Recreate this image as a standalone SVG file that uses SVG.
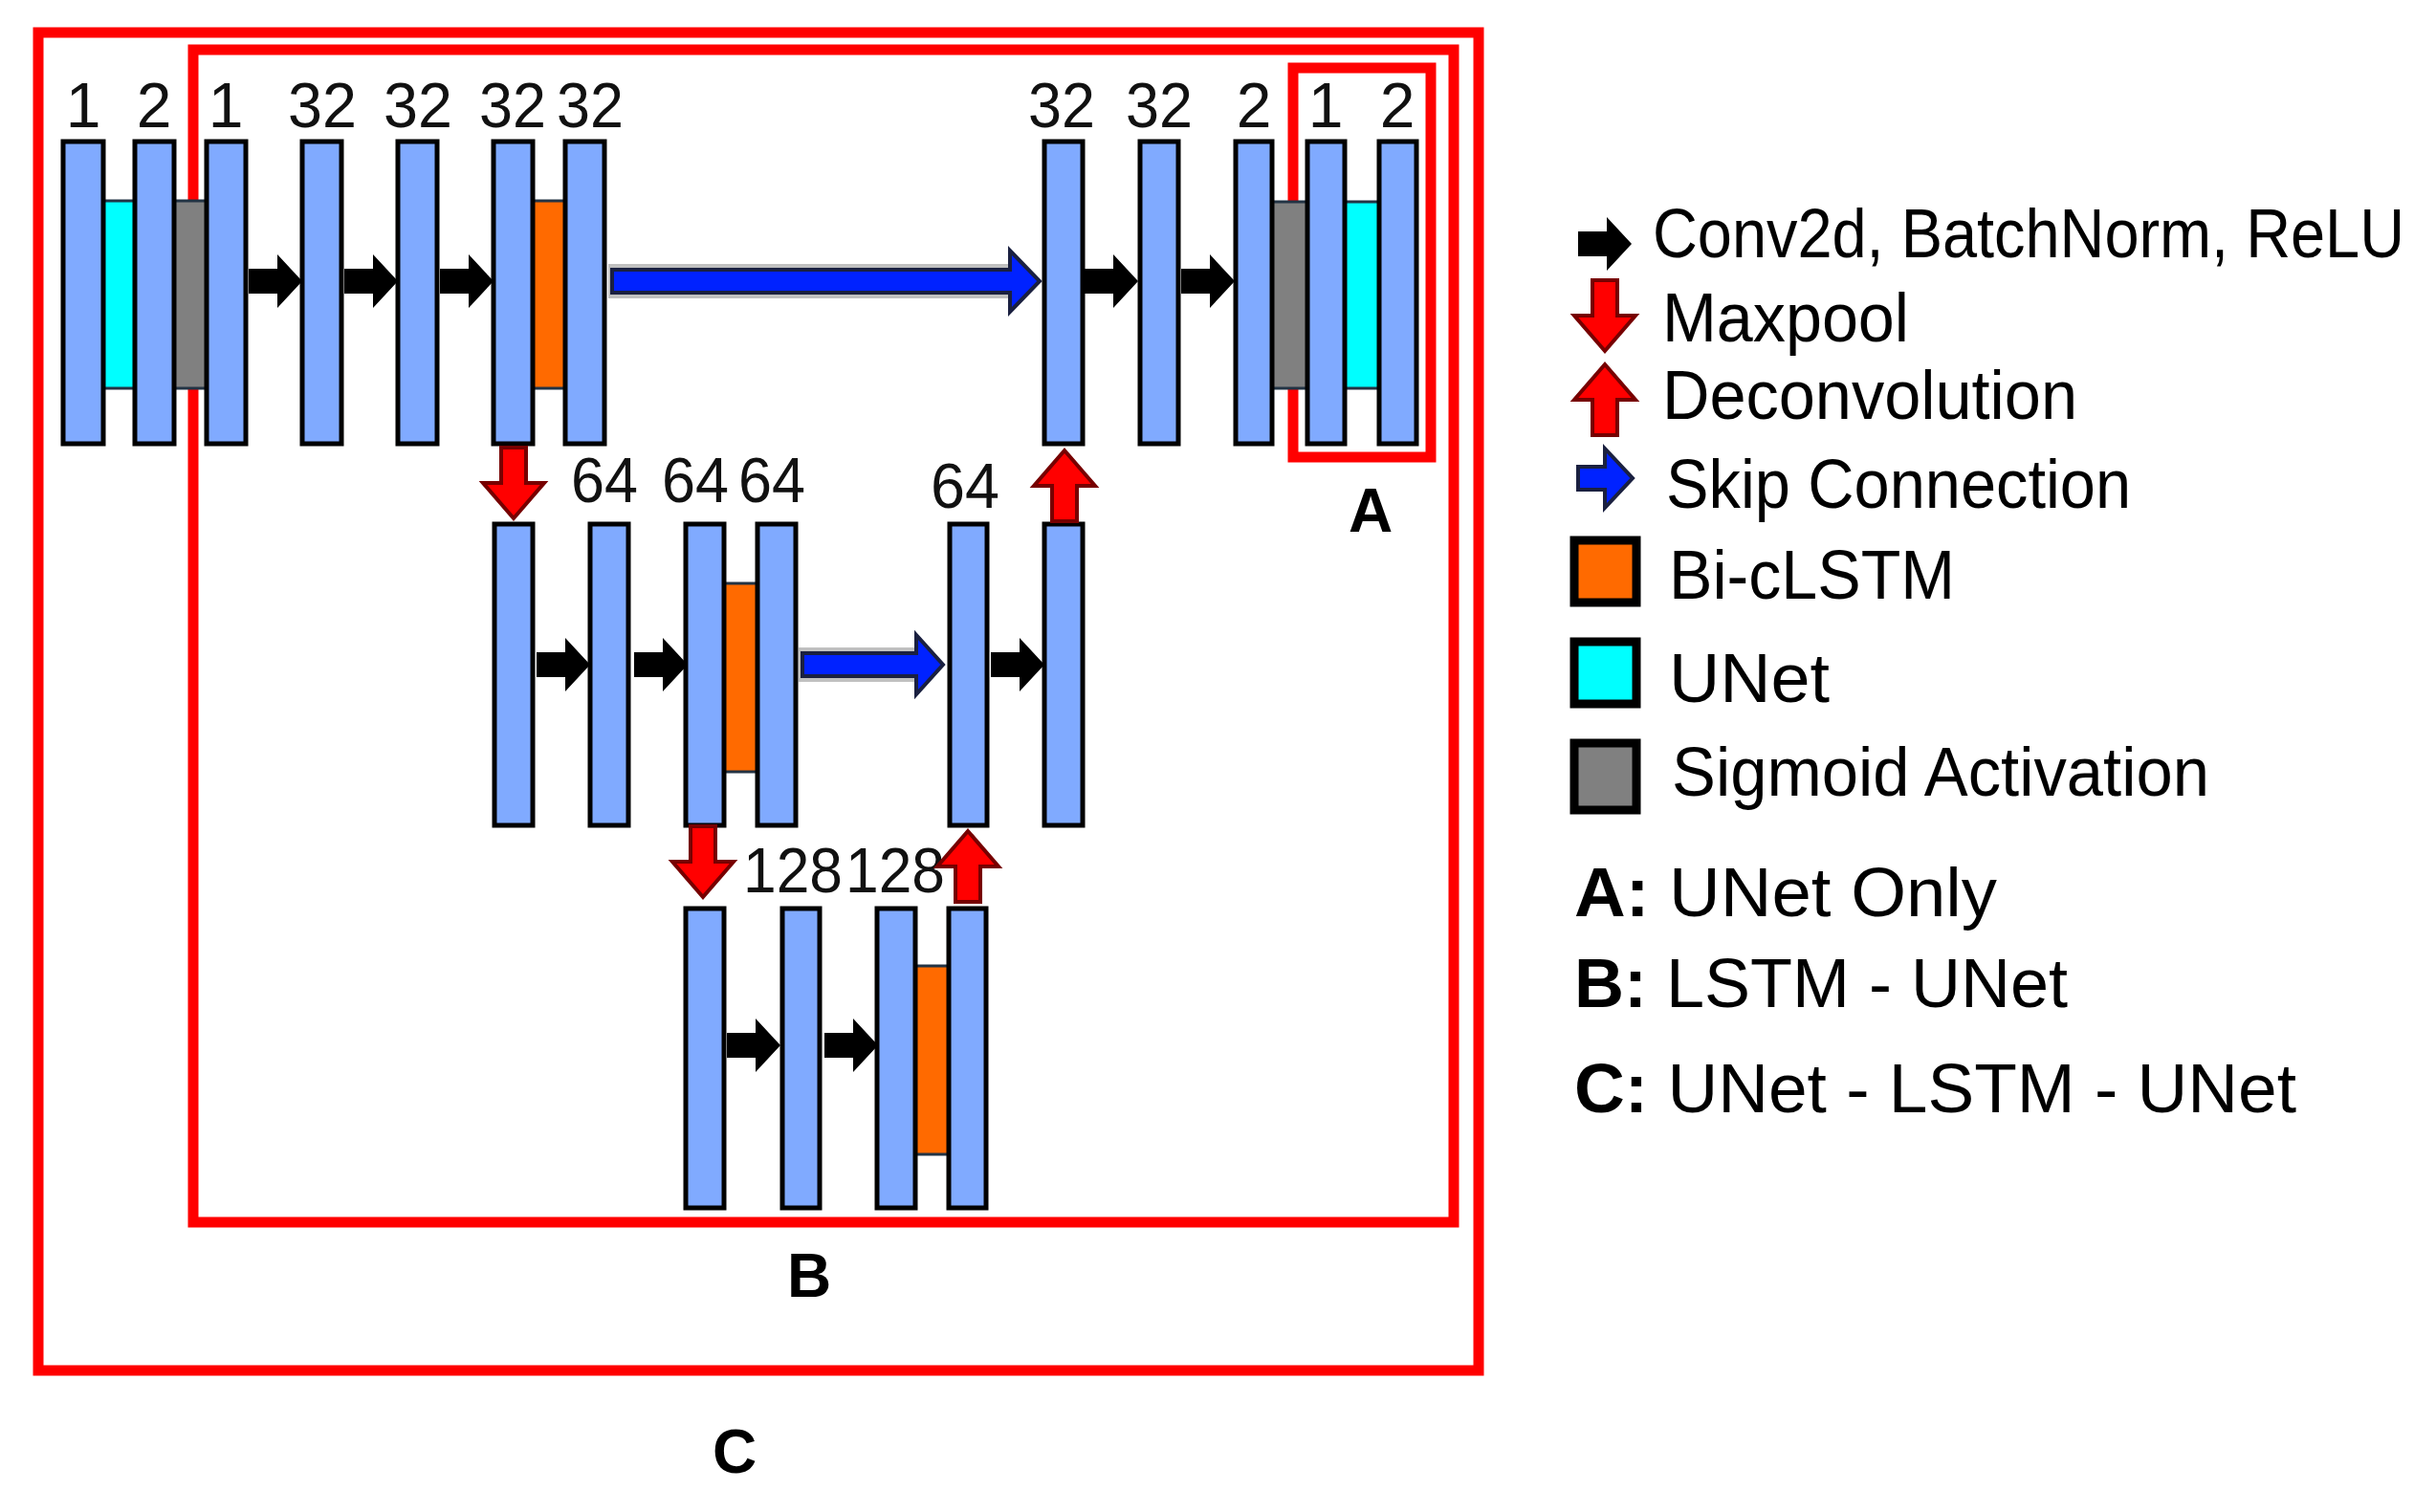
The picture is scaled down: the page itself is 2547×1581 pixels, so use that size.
<svg xmlns="http://www.w3.org/2000/svg" xmlns:xlink="http://www.w3.org/1999/xlink" width="2547" height="1581" viewBox="0 0 2547 1581">
<style>
.bar{fill:#80aaff;stroke:#000;stroke-width:5}
.cy{fill:#00ffff;stroke:#223344;stroke-width:3}
.or{fill:#ff6a00;stroke:#223344;stroke-width:3}
.gr{fill:#808080;stroke:#223344;stroke-width:3}
.frame{fill:none;stroke:#ff0000;stroke-width:11}
.num{font-family:"Liberation Sans",Arial,sans-serif;font-size:66px;fill:#111;text-anchor:middle}
.lab{font-family:"Liberation Sans",Arial,sans-serif;font-size:64px;font-weight:bold;fill:#000;text-anchor:middle}
.leg{font-family:"Liberation Sans",Arial,sans-serif;font-size:72px;fill:#000}
.lsq{stroke:#000;stroke-width:9}
</style>
<defs>
<path id="blk" d="M-28,-13 H2 V-28 L28,0 L2,28 V13 H-28 Z" fill="#000"/>
<path id="dn" d="M-13,-37 H13 V0 H32 L0,37 L-32,0 H-13 Z" fill="#ff0000" stroke="#700" stroke-width="4"/>
<path id="up" d="M-13,37 H13 V0 H32 L0,-37 L-32,0 H-13 Z" fill="#ff0000" stroke="#700" stroke-width="4"/>
</defs>
<rect width="2547" height="1581" fill="#fff"/>
<g id="frames">
<rect class="frame" x="40" y="34" width="1506" height="1399"/>
<rect class="frame" x="202" y="52" width="1318" height="1226"/>
<rect class="frame" x="1352" y="71" width="144" height="407"/>
<text class="lab" x="1433" y="556">A</text>
<text class="lab" x="846" y="1356">B</text>
<text class="lab" x="768" y="1540">C</text>
</g>
<g id="blocks">
<rect class="cy" x="108" y="210" width="33" height="196"/>
<rect class="gr" x="182" y="210" width="34" height="196"/>
<rect class="or" x="557" y="210" width="34" height="196"/>
<rect class="gr" x="1330" y="211" width="37" height="195"/>
<rect class="cy" x="1406" y="211" width="36" height="195"/>
<rect class="or" x="757" y="610" width="35" height="197"/>
<rect class="or" x="957" y="1010" width="35" height="197"/>
</g>
<g id="top-row">
<rect class="bar" x="66" y="148" width="42" height="316"/>
<rect class="bar" x="141" y="148" width="41" height="316"/>
<rect class="bar" x="216" y="148" width="41" height="316"/>
<rect class="bar" x="316" y="148" width="41" height="316"/>
<rect class="bar" x="416" y="148" width="41" height="316"/>
<rect class="bar" x="516" y="148" width="41" height="316"/>
<rect class="bar" x="591" y="148" width="41" height="316"/>
<rect class="bar" x="1092" y="148" width="40" height="316"/>
<rect class="bar" x="1192" y="148" width="40" height="316"/>
<rect class="bar" x="1292" y="148" width="38" height="316"/>
<rect class="bar" x="1367" y="148" width="39" height="316"/>
<rect class="bar" x="1442" y="148" width="39" height="316"/>
</g>
<g id="mid-row">
<rect class="bar" x="517" y="548" width="40" height="315"/>
<rect class="bar" x="617" y="548" width="40" height="315"/>
<rect class="bar" x="717" y="548" width="40" height="315"/>
<rect class="bar" x="792" y="548" width="40" height="315"/>
<rect class="bar" x="993" y="548" width="39" height="315"/>
<rect class="bar" x="1092" y="548" width="40" height="315"/>
</g>
<g id="bottom-row">
<rect class="bar" x="717" y="950" width="40" height="313"/>
<rect class="bar" x="818" y="950" width="39" height="313"/>
<rect class="bar" x="917" y="950" width="40" height="313"/>
<rect class="bar" x="992" y="950" width="39" height="313"/>
</g>
<g id="labels">
<text class="num" x="87" y="133">1</text>
<text class="num" x="161" y="133">2</text>
<text class="num" x="236" y="133">1</text>
<text class="num" x="337" y="133" textLength="72" lengthAdjust="spacingAndGlyphs">32</text>
<text class="num" x="437" y="133" textLength="72" lengthAdjust="spacingAndGlyphs">32</text>
<text class="num" x="536" y="133" textLength="70" lengthAdjust="spacingAndGlyphs">32</text>
<text class="num" x="617" y="133" textLength="70" lengthAdjust="spacingAndGlyphs">32</text>
<text class="num" x="1110" y="133" textLength="70" lengthAdjust="spacingAndGlyphs">32</text>
<text class="num" x="1212" y="133" textLength="70" lengthAdjust="spacingAndGlyphs">32</text>
<text class="num" x="1311" y="133">2</text>
<text class="num" x="1386" y="133">1</text>
<text class="num" x="1461" y="133">2</text>
<text class="num" x="632" y="525" textLength="70" lengthAdjust="spacingAndGlyphs">64</text>
<text class="num" x="727" y="525" textLength="70" lengthAdjust="spacingAndGlyphs">64</text>
<text class="num" x="807" y="525" textLength="70" lengthAdjust="spacingAndGlyphs">64</text>
<text class="num" x="1009" y="531" textLength="72" lengthAdjust="spacingAndGlyphs">64</text>
<text class="num" x="829" y="933" textLength="104" lengthAdjust="spacingAndGlyphs">128</text>
<text class="num" x="936" y="933" textLength="104" lengthAdjust="spacingAndGlyphs">128</text>
</g>
<g id="connectors">
<use href="#blk" x="288" y="294"/>
<use href="#blk" x="388" y="294"/>
<use href="#blk" x="488" y="294"/>
<use href="#blk" x="1162" y="294"/>
<use href="#blk" x="1263" y="294"/>
<use href="#blk" x="589" y="695"/>
<use href="#blk" x="691" y="695"/>
<use href="#blk" x="1064" y="695"/>
<use href="#blk" x="788" y="1093"/>
<use href="#blk" x="890" y="1093"/>
<rect x="636" y="276" width="420" height="36" fill="#c0c0c0"/>
<path d="M640,282 H1056 V262 L1087,294 L1056,326 V306 H640 Z" fill="#0022ff" stroke="#1a2040" stroke-width="4"/>
<rect x="835" y="677" width="125" height="36" fill="#c0c0c0"/>
<path d="M839,683 H958 V664 L986,695 L958,726 V707 H839 Z" fill="#0022ff" stroke="#1a2040" stroke-width="4"/>
<use href="#dn" x="537" y="505"/>
<use href="#up" x="1113" y="508"/>
<use href="#dn" x="735" y="901"/>
<use href="#up" x="1012" y="906"/>
</g>
<g id="legend">
<use href="#blk" x="1678" y="255"/>
<text class="leg" x="1728" y="269" textLength="786" lengthAdjust="spacingAndGlyphs">Conv2d, BatchNorm, ReLU</text>
<use href="#dn" x="1678" y="330"/>
<text class="leg" x="1738" y="357" textLength="258" lengthAdjust="spacingAndGlyphs">Maxpool</text>
<use href="#up" x="1678" y="418"/>
<text class="leg" x="1738" y="438" textLength="434" lengthAdjust="spacingAndGlyphs">Deconvolution</text>
<path d="M1650,488 H1678 V469 L1707,500 L1678,531 V512 H1650 Z" fill="#0022ff" stroke="#1a2040" stroke-width="4"/>
<text class="leg" x="1742" y="531" textLength="486" lengthAdjust="spacingAndGlyphs">Skip Connection</text>
<rect class="lsq" x="1646" y="565" width="65" height="65" fill="#ff6a00"/>
<text class="leg" x="1745" y="626" textLength="299" lengthAdjust="spacingAndGlyphs">Bi-cLSTM</text>
<rect class="lsq" x="1646" y="671" width="65" height="65" fill="#00ffff"/>
<text class="leg" x="1745" y="734" textLength="168" lengthAdjust="spacingAndGlyphs">UNet</text>
<rect class="lsq" x="1646" y="777" width="65" height="70" fill="#808080"/>
<text class="leg" x="1748" y="832" textLength="562" lengthAdjust="spacingAndGlyphs">Sigmoid Activation</text>
<text class="leg" x="1646" y="958" textLength="442" lengthAdjust="spacingAndGlyphs"><tspan font-weight="bold">A:</tspan> UNet Only</text>
<text class="leg" x="1646" y="1053" textLength="516" lengthAdjust="spacingAndGlyphs"><tspan font-weight="bold">B:</tspan> LSTM - UNet</text>
<text class="leg" x="1646" y="1163" textLength="755" lengthAdjust="spacingAndGlyphs"><tspan font-weight="bold">C:</tspan> UNet - LSTM - UNet</text>
</g>
</svg>
